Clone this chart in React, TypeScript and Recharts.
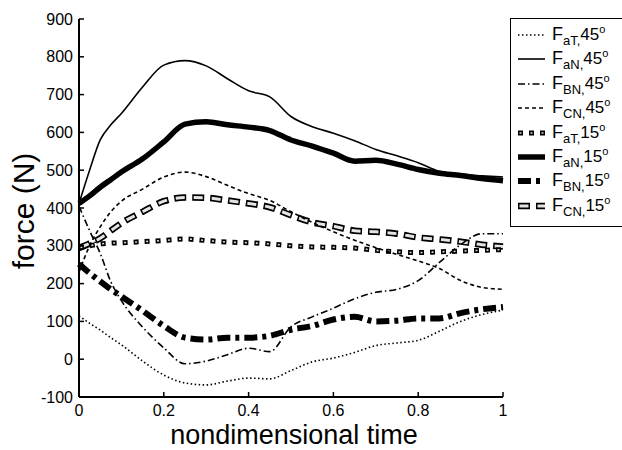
import React from 'react';
import { LineChart, Line, XAxis, YAxis } from 'recharts';

// sample times (nondimensional) and force values (N)
const TIME = [0, 0.025, 0.05, 0.075, 0.1, 0.15, 0.2, 0.25, 0.3, 0.35, 0.4, 0.45, 0.5, 0.55, 0.6, 0.65, 0.7, 0.75, 0.8, 0.85, 0.9, 0.95, 1];
const X_TICKS = [0, 0.2, 0.4, 0.6, 0.8, 1];
const Y_TICKS = [-100, 0, 100, 200, 300, 400, 500, 600, 700, 800, 900];

const F_AT_45 = [115, 95, 77, 57, 38, -5, -42, -63, -68, -58, -50, -52, -30, -7, 3, 18, 36, 43, 50, 74, 100, 118, 130];
const F_AN_45 = [412, 500, 580, 620, 650, 720, 778, 790, 776, 742, 710, 694, 642, 615, 598, 578, 555, 538, 520, 497, 489, 485, 482];
const F_BN_45 = [405, 340, 280, 205, 155, 85, 30, -12, -5, 12, 29, 20, 86, 112, 135, 160, 177, 185, 208, 256, 303, 332, 332];
const F_CN_45 = [230, 300, 350, 390, 418, 450, 482, 495, 483, 460, 438, 420, 390, 362, 337, 315, 295, 277, 260, 240, 208, 190, 185];
const F_AT_15 = [295, 300, 305, 307, 308, 311, 314, 318, 314, 310, 308, 305, 300, 297, 296, 294, 288, 284, 282, 284, 286, 288, 290];
const F_AN_15 = [412, 432, 455, 475, 495, 530, 575, 622, 628, 620, 614, 605, 580, 564, 545, 524, 526, 516, 502, 492, 486, 478, 472];
const F_BN_15 = [252, 228, 206, 185, 166, 128, 88, 57, 52, 57, 57, 62, 78, 88, 105, 112, 100, 102, 108, 108, 122, 132, 138];
const F_CN_15 = [294, 306, 320, 340, 360, 390, 418, 428, 427, 420, 412, 402, 381, 362, 352, 340, 337, 332, 322, 317, 311, 303, 298];

type Stroke = { width: number; color: string; dash?: string; offset?: number };
type Series = { key: string; sub: string; angle: string; values: number[]; strokes: Stroke[] };

const INK = '#000';

const SERIES: Series[] = [
  { key: 'aT45', sub: 'aT', angle: '45', values: F_AT_45, strokes: [{ width: 1.6, color: INK, dash: '1.5 2.5' }] },
  { key: 'aN45', sub: 'aN', angle: '45', values: F_AN_45, strokes: [{ width: 1.6, color: INK }] },
  { key: 'BN45', sub: 'BN', angle: '45', values: F_BN_45, strokes: [{ width: 1.6, color: INK, dash: '7 3 1.5 3' }] },
  { key: 'CN45', sub: 'CN', angle: '45', values: F_CN_45, strokes: [{ width: 1.6, color: INK, dash: '4 3' }] },
  {
    key: 'aT15', sub: 'aT', angle: '15', values: F_AT_15,
    strokes: [{ width: 5, color: INK, dash: '5 6' }, { width: 1.6, color: '#d8d8d8', dash: '2 9', offset: -1.5 }],
  },
  { key: 'aN15', sub: 'aN', angle: '15', values: F_AN_15, strokes: [{ width: 5.5, color: INK }] },
  { key: 'BN15', sub: 'BN', angle: '15', values: F_BN_15, strokes: [{ width: 6, color: INK, dash: '13 5 4 5' }] },
  {
    key: 'CN15', sub: 'CN', angle: '15', values: F_CN_15,
    strokes: [{ width: 6.5, color: INK, dash: '12 6' }, { width: 3, color: '#e4e4e4', dash: '9 9', offset: -1.5 }],
  },
];

const rows = TIME.map((t, i) => {
  const row: Record<string, number> = { t };
  SERIES.forEach(s => { row[s.key] = s.values[i]; });
  return row;
});

const FONT = '"Liberation Sans", Arial, Helvetica, sans-serif';

const YTitle = (props: any) => {
  const vb = props.viewBox;
  const cx = vb.x + 23;
  const cy = vb.y + vb.height / 2 + 3;
  return (
    <text x={cx} y={cy} transform={`rotate(-90 ${cx} ${cy})`} textAnchor="middle" dominantBaseline="central"
      fontSize={30} fontFamily={FONT} fill="#000">force (N)</text>
  );
};

const XTitle = (props: any) => {
  const vb = props.viewBox;
  return (
    <text x={vb.x + vb.width / 2 + 3} y={444} textAnchor="middle" fontSize={27} fontFamily={FONT} fill="#000">
      nondimensional time
    </text>
  );
};

const tickStyle = { fontSize: 16, fontFamily: FONT, fill: '#000' };

const LegendBox: React.FC = () => (
  <div style={{
    position: 'absolute', left: 510, top: 18, width: 125, height: 209, border: '1px solid #000',
    borderRight: 'none', background: '#fff', boxSizing: 'border-box', fontFamily: FONT, color: '#000',
  }}>
    {SERIES.map((s, i) => (
      <div key={s.key} style={{ position: 'absolute', left: 7, top: 5 + i * 24.4, height: 22, display: 'flex', alignItems: 'center' }}>
        <svg width={27} height={10}>
          {s.strokes.map((st, j) => (
            <line key={j} x1={0} y1={5} x2={27} y2={5} stroke={st.color} strokeWidth={st.width}
              strokeDasharray={st.dash} strokeDashoffset={st.offset} />
          ))}
        </svg>
        <span style={{ marginLeft: 7, fontSize: 18, whiteSpace: 'nowrap', lineHeight: '22px' }}>
          F<span style={{ fontSize: 13, position: 'relative', top: 5 }}>{s.sub},</span>
          <span style={{ fontSize: 17 }}>{s.angle}</span>
          <span style={{ fontSize: 11, position: 'relative', top: -7 }}>o</span>
        </span>
      </div>
    ))}
  </div>
);

export default function App() {
  return (
    <div style={{ position: 'absolute', left: 0, top: 0, width: 622, height: 450, background: '#fff', overflow: 'hidden' }}>
      <LineChart width={622} height={450} data={rows} margin={{ top: 19, right: 119, bottom: 3, left: 0 }}>
        <XAxis dataKey="t" type="number" domain={[0, 1]} ticks={X_TICKS} interval={0}
          tickSize={-5} tickMargin={13} height={50}
          tickLine={{ stroke: '#000', strokeWidth: 1.5 }} tick={tickStyle} axisLine={{ stroke: '#000', strokeWidth: 2 }}
          label={{ content: XTitle }} />
        <XAxis xAxisId="top" dataKey="t" type="number" domain={[0, 1]} ticks={X_TICKS} orientation="top"
          height={0} tickSize={-5} tick={false} axisLine={{ stroke: '#000', strokeWidth: 2 }}
          tickLine={{ stroke: '#000', strokeWidth: 1.5 }} />
        <YAxis type="number" domain={[-100, 900]} ticks={Y_TICKS} interval={0} width={79}
          tickSize={-5} tickMargin={11} tick={tickStyle} axisLine={{ stroke: '#000', strokeWidth: 2 }}
          tickLine={{ stroke: '#000', strokeWidth: 1.5 }} label={{ content: YTitle }} />
        <YAxis yAxisId="right" type="number" domain={[-100, 900]} ticks={Y_TICKS} orientation="right" width={0}
          tickSize={-5} tick={false} axisLine={{ stroke: '#000', strokeWidth: 2 }}
          tickLine={{ stroke: '#000', strokeWidth: 1.5 }} />
        {SERIES.slice().reverse().flatMap(s =>
          s.strokes.map((st, j) => (
            <Line key={`${s.key}-${j}`} type="monotone" dataKey={s.key} stroke={st.color} strokeWidth={st.width}
              strokeDasharray={st.dash} strokeDashoffset={st.offset} dot={false} activeDot={false}
              isAnimationActive={false} />
          ))
        )}
      </LineChart>
      <LegendBox />
    </div>
  );
}
